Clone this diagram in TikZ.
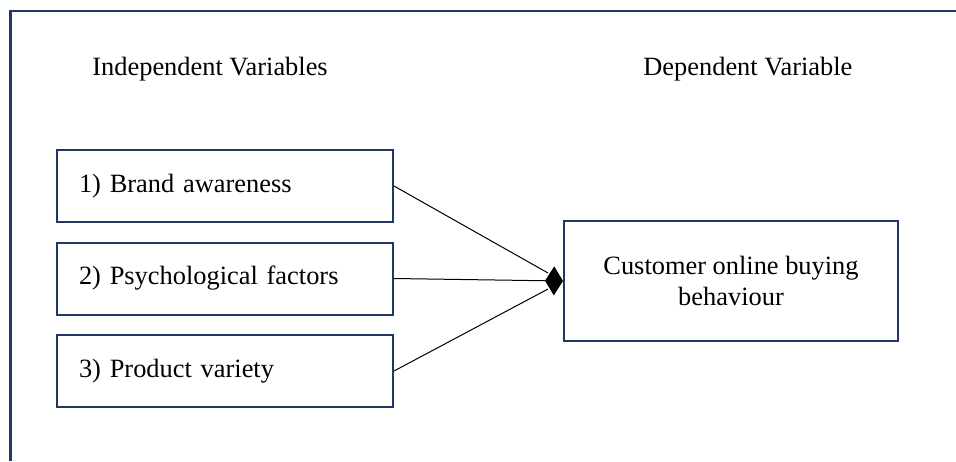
\documentclass[tikz,border=0pt]{standalone}
\usepackage{fontspec}
\setmainfont{Liberation Serif}
\usepackage{xcolor}
\usepackage{tikz}
\usetikzlibrary{arrows.meta,positioning}

\definecolor{framenavy}{HTML}{203864}

\begin{document}
\begin{tikzpicture}[
		x=0.5pt, y=-0.5pt,
		node distance=9.25pt,
		factor/.style={rectangle, draw=framenavy, line width=1pt, minimum height=36pt, text width=146pt, inner xsep=11pt, align=left, font=\fontsize{13.2pt}{15.5pt}\selectfont},
		outcome/.style={rectangle, draw=framenavy, line width=1pt, minimum width=167pt, minimum height=60pt, align=center, font=\fontsize{13.2pt}{15.5pt}\selectfont},
		heading/.style={inner sep=0pt, font=\fontsize{13.2pt}{15.5pt}\selectfont},
		arrow/.style={draw=black, line width=0.5pt}
		]
		\useasboundingbox (0,0) rectangle (956,461);
		
		% Frame
		\draw[framenavy, line width=1.35pt] (956,11) -- (10.5,11) -- (10.5,461);
		
		% Headings
		\node[heading, anchor=base west] (indep) at (92,75) {Independent Variables};
		\node[heading, anchor=base west] (dep) at (643,75) {Dependent Variable};
		
		% Main flow
		\node[factor, anchor=north west] (brand) at (56,149) {1) Brand awareness};
		\node[factor, below=of brand] (psych) {2) Psychological factors};
		\node[factor, below=of psych] (variety) {3) Product variety};
		\node[outcome, anchor=west] (buying) at (563,281) {Customer online buying\\behaviour};
		\coordinate (upjoin) at ([xshift=-7.5pt, yshift=4pt]buying.west);
		\coordinate (lowjoin) at ([xshift=-7.5pt, yshift=-4pt]buying.west);
		
		% Arrows
		\draw[arrow] (brand.east) -- (upjoin);
		\draw[arrow, -{Diamond[length=9pt, width=14.5pt]}] (psych.east) -- (buying.west);
		\draw[arrow] (variety.east) -- (lowjoin);
		
	\end{tikzpicture}
\end{document}
